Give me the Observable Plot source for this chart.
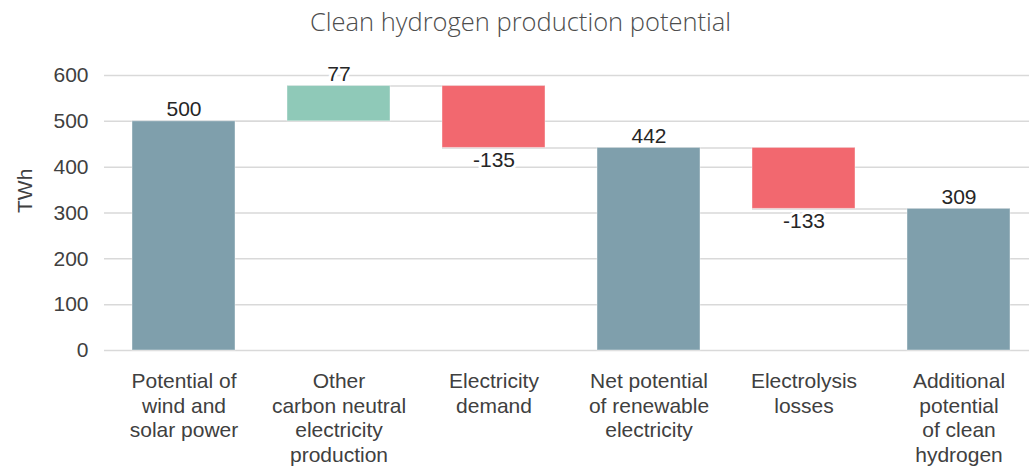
<!DOCTYPE html>
<html>
<head>
<meta charset="utf-8">
<script src="https://cdn.jsdelivr.net/npm/d3@7"></script>
<script src="https://cdn.jsdelivr.net/npm/@observablehq/plot@0.6"></script>
<style>
  html, body { margin: 0; padding: 0; background: #fff; }
  #title { height: 48px; width: 1029px; box-sizing: border-box; padding-top: 4px; padding-left: 12px;
    font-family: "Open Sans", sans-serif; font-weight: 300; font-size: 25.5px; color: #4d4d4d; text-align: center; }
  #chart svg { display: block; }
</style>
</head>
<body>
<div id="title">Clean hydrogen production potential</div>
<div id="chart"></div>
<script>
const categories = [
  "Potential of\nwind and\nsolar power",
  "Other\ncarbon neutral\nelectricity\nproduction",
  "Electricity\ndemand",
  "Net potential\nof renewable\nelectricity",
  "Electrolysis\nlosses",
  "Additional\npotential\nof clean\nhydrogen"
];
const values = [500, 77, -135, 442, -133, 309];
const kinds = ["total", "increase", "decrease", "total", "decrease", "total"];
const yTicks = [0, 100, 200, 300, 400, 500, 600];
const yLabel = "TWh";
const colors = {total: "#7f9fac", increase: "#8fc9b8", decrease: "#f2686f"};

// build waterfall table
let running = 0;
const rows = categories.map((c, i) => {
  const v = values[i], k = kinds[i];
  let y1, y2;
  if (k === "total") { y1 = 0; y2 = v; running = v; }
  else { y1 = running; y2 = running + v; running = y2; }
  return {cat: c, value: v, kind: k, y1, y2, top: Math.max(y1, y2), bottom: Math.min(y1, y2), end: running};
});
const connectors = rows.slice(0, -1).map((r, i) => ({a: r.cat, b: rows[i + 1].cat, level: r.end}));

const chart = Plot.plot({
  width: 1029,
  height: 423,
  marginTop: 27,
  marginBottom: 121,
  marginLeft: 104,
  marginRight: 0,
  style: {fontFamily: "'Liberation Sans', Arial, sans-serif", fontSize: "21px", color: "#404040", background: "#fff"},
  x: {domain: categories, range: [104, 1038], paddingInner: 0.338, paddingOuter: 0.169, label: null},
  y: {domain: [0, 600], label: null},
  marks: [
    Plot.gridY(yTicks, {stroke: "#d9d9d9", strokeOpacity: 1, strokeWidth: 1.5}),
    Plot.ruleY(connectors, {x1: "a", x2: "b", y: "level", stroke: "#d9d9d9", strokeWidth: 1.5}),
    Plot.barY(rows, {x: "cat", y1: "y1", y2: "y2", fill: d => colors[d.kind], stroke: "#ffffff", strokeOpacity: 0.4, strokeWidth: 1}),
    Plot.text(rows.filter(d => d.kind !== "decrease"), {x: "cat", y: "top", text: d => String(d.value), lineAnchor: "bottom", dy: -5,
      fill: "#262626", stroke: "white", strokeWidth: 6, fontSize: 21}),
    Plot.text(rows.filter(d => d.kind === "decrease"), {x: "cat", y: "bottom", text: d => String(d.value), lineAnchor: "top", dy: 4,
      fill: "#262626", stroke: "white", strokeWidth: 6, fontSize: 21}),
    Plot.axisY(yTicks, {tickSize: 0, tickPadding: 16, fontSize: 21, fill: "#404040", label: null}),
    Plot.text([yLabel], {frameAnchor: "left", rotate: -90, dx: -79, fontSize: 21, fill: "#404040"}),
    Plot.axisX({tickSize: 0, tickPadding: 20, fontSize: 21, fill: "#404040", lineHeight: 1.17, label: null})
  ]
});
document.getElementById("chart").appendChild(chart);
</script>
</body>
</html>
